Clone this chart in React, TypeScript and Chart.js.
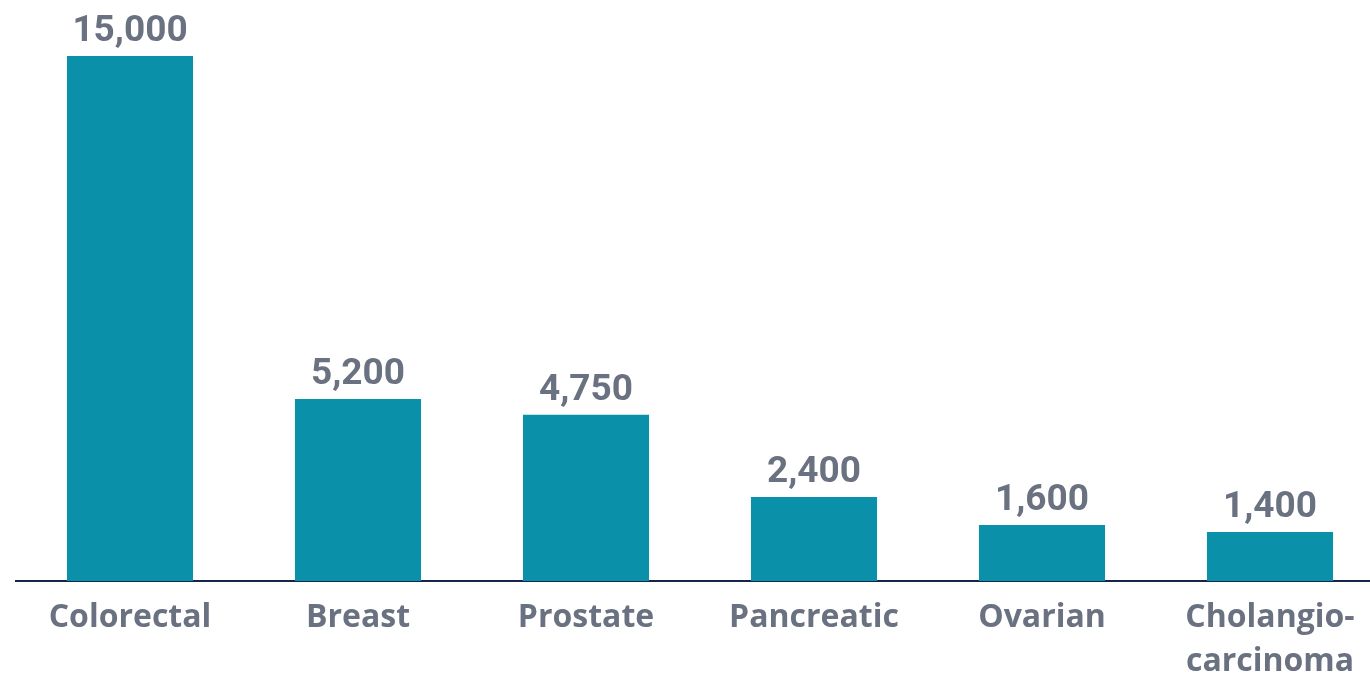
import React, { useEffect, useRef } from "react";
import { Chart, registerables } from "chart.js";

Chart.register(...registerables);

const categories: (string | string[])[] = [
  "Colorectal",
  "Breast",
  "Prostate",
  "Pancreatic",
  "Ovarian",
  ["Cholangio-", "carcinoma"],
];
const values: number[] = [15000, 5200, 4750, 2400, 1600, 1400];

const TEXT = "#6a7180";
const BAR = "#0a90a9";
const AXIS = "#16264b";

const valueLabels = {
  id: "valueLabels",
  afterDatasetsDraw(chart: any) {
    const ctx = chart.ctx;
    const meta = chart.getDatasetMeta(0);
    ctx.save();
    ctx.font = "bold 37px Roboto";
    ctx.fillStyle = TEXT;
    ctx.textAlign = "center";
    ctx.textBaseline = "alphabetic";
    meta.data.forEach((bar: any, i: number) => {
      ctx.fillText(values[i].toLocaleString("en-US"), bar.x, bar.y - 15);
    });
    ctx.restore();
  },
};

export default function App() {
  const ref = useRef<HTMLCanvasElement>(null);
  useEffect(() => {
    const chart = new Chart(ref.current!, {
      type: "bar",
      data: {
        labels: categories,
        datasets: [
          {
            data: values,
            backgroundColor: BAR,
            barPercentage: 0.553,
            categoryPercentage: 1,
          },
        ],
      },
      options: {
        responsive: false,
        animation: false,
        layout: { padding: { left: 16, right: 0, top: 0, bottom: 0 } },
        plugins: { legend: { display: false }, tooltip: { enabled: false } },
        scales: {
          y: { display: false, min: 0, max: 16600 },
          x: {
            grid: { display: false, drawTicks: false },
            border: { display: true, color: AXIS, width: 2 },
            afterFit(scale: any) {
              scale.height = 94;
            },
            ticks: {
              color: TEXT,
              font: { family: "'Open Sans'", weight: "bold", size: 32, lineHeight: 1.4 },
              padding: 14,
              maxRotation: 0,
              autoSkip: false,
            },
          },
        },
      },
      plugins: [valueLabels],
    });
    return () => chart.destroy();
  }, []);
  return (
    <div
      style={{
        position: "fixed",
        left: 0,
        top: 0,
        width: 1370,
        height: 675,
        overflow: "hidden",
        background: "#fff",
      }}
    >
      <canvas ref={ref} width={1384} height={675} style={{ display: "block" }} />
    </div>
  );
}
